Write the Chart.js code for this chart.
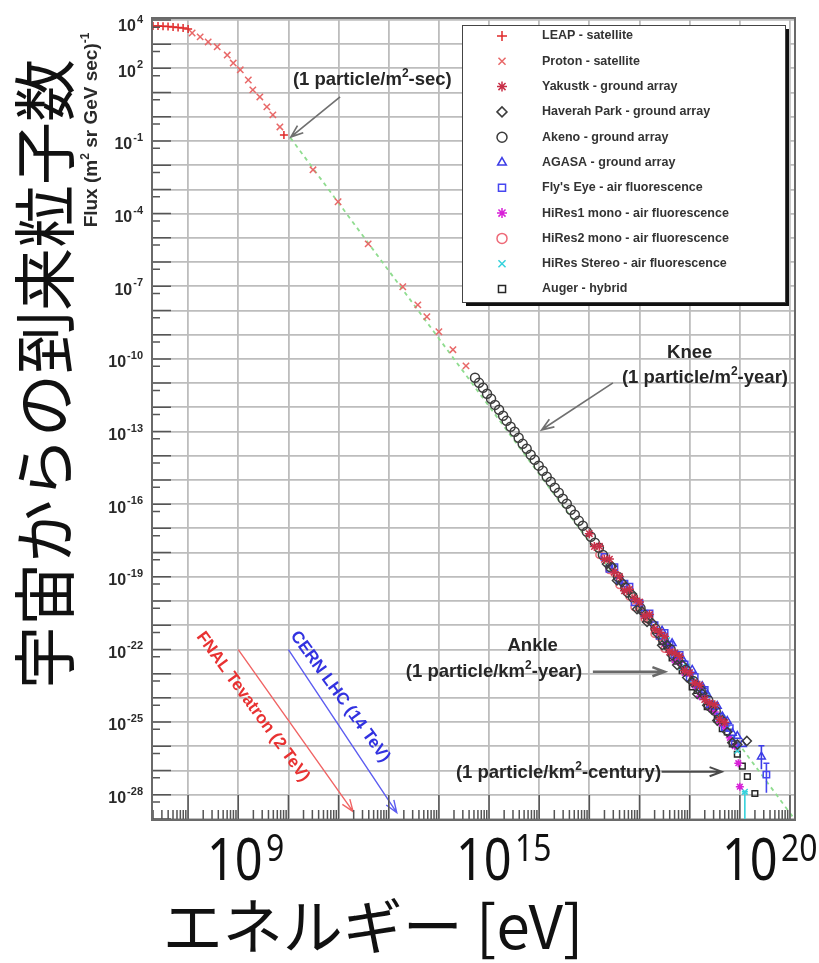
<!DOCTYPE html>
<html>
<head>
<meta charset="utf-8">
<title>Cosmic ray spectrum</title>
<script src="https://cdn.jsdelivr.net/npm/chart.js@4.4.1/dist/chart.umd.min.js"></script>
<style>
  html, body { margin: 0; padding: 0; background: #fff; }
  #wrap { position: relative; width: 819px; height: 963px; }
</style>
</head>
<body>
<div id="wrap"><canvas id="spectrum" width="819" height="963"></canvas></div>
<script>
// ==================== Data (log10 of energy in eV / flux) ====================
const leapLogE = [8.30, 8.40, 8.50, 8.60, 8.70, 8.80, 8.90, 9.00, 10.91];
const leapLogFlux = [3.75, 3.75, 3.74, 3.73, 3.71, 3.69, 3.67, 3.63, -0.75];

const protonLogE = [9.08, 9.24, 9.40, 9.58, 9.78, 9.90, 10.04, 10.20, 10.29, 10.43, 10.57, 10.69, 10.83,
  11.49, 11.99, 12.59, 13.28, 13.58, 13.76, 14.00, 14.28, 14.54];
const protonLogFlux = [3.46, 3.30, 3.09, 2.89, 2.55, 2.22, 1.94, 1.52, 1.11, 0.82, 0.41, 0.08, -0.42,
  -2.19, -3.51, -5.25, -7.02, -7.77, -8.26, -8.88, -9.62, -10.29];

const yakutskLogE = [17.0, 17.1, 17.2, 17.3, 17.4, 17.5, 17.6, 17.7, 17.8, 17.9, 18.0, 18.1, 18.2, 18.3,
  18.4, 18.5, 18.6, 18.7, 18.8, 18.9, 19.0, 19.1, 19.2, 19.3, 19.4, 19.5, 19.6, 19.7];
const yakutskLogFlux = [-17.22, -17.75, -17.74, -18.28, -18.27, -18.80, -18.99, -19.58, -19.51, -19.90, -20.04, -20.62, -20.56, -21.15,
  -21.29, -21.47, -22.11, -22.15, -22.28, -22.87, -22.96, -23.39, -23.48, -24.07, -24.21, -24.29, -24.88, -25.02];

const haverahLogE = [17.35, 17.45, 17.55, 17.65, 17.75, 17.85, 17.95, 18.05, 18.15, 18.25, 18.35, 18.45, 18.55, 18.65,
  18.75, 18.85, 18.95, 19.05, 19.15, 19.25, 19.35, 19.45, 19.55, 19.65, 19.75, 19.85, 19.95, 20.14];
const haverahLogFlux = [-18.47, -18.56, -19.15, -19.23, -19.67, -19.71, -20.34, -20.43, -20.87, -20.90, -21.34, -21.83, -21.82, -22.25,
  -22.64, -22.63, -23.16, -23.35, -23.84, -23.82, -24.31, -24.50, -24.94, -24.92, -25.41, -25.85, -25.93, -25.78];

const akenoLogE = [14.72, 14.80, 14.88, 14.96, 15.04, 15.12, 15.20, 15.28, 15.35, 15.43, 15.51, 15.59, 15.67, 15.75,
  15.83, 15.91, 15.99, 16.07, 16.15, 16.23, 16.31, 16.39, 16.47, 16.55, 16.63, 16.71, 16.79, 16.87, 16.95, 17.03,
  17.11, 17.19, 17.27, 17.42, 17.57, 17.72, 17.87, 18.02, 18.17, 18.32, 18.47, 18.62, 18.77, 18.92, 19.07, 19.22, 19.37, 19.52];
const akenoLogFlux = [-10.78, -10.99, -11.19, -11.44, -11.65, -11.90, -12.10, -12.35, -12.56, -12.80, -13.01, -13.26, -13.51, -13.71,
  -13.96, -14.17, -14.41, -14.62, -14.87, -15.07, -15.32, -15.53, -15.78, -15.98, -16.23, -16.44, -16.69, -16.89, -17.14, -17.35,
  -17.59, -17.80, -18.10, -18.60, -19.00, -19.45, -19.85, -20.30, -20.70, -21.15, -21.60, -22.00, -22.40, -22.85, -23.30, -23.70, -24.10, -24.55];

const agasaLogE = [18.45, 18.55, 18.65, 18.75, 18.85, 18.95, 19.05, 19.15, 19.25, 19.35, 19.45, 19.55, 19.65, 19.75, 19.85, 19.95, 20.05, 20.43];
const agasaLogFlux = [-21.23, -21.72, -21.75, -22.24, -22.38, -22.76, -22.85, -23.44, -23.52, -23.86, -24.30, -24.34, -24.77, -24.96, -25.45, -25.58, -25.92, -26.43];

const flysEyeLogE = [17.3, 17.4, 17.5, 17.6, 17.7, 17.8, 17.9, 18.0, 18.1, 18.2, 18.3, 18.4, 18.5, 18.6,
  18.7, 18.8, 18.9, 19.0, 19.1, 19.2, 19.3, 19.4, 19.5, 19.6, 19.7, 19.8, 19.9, 20.53];
const flysEyeLogFlux = [-18.18, -18.67, -18.60, -19.14, -19.28, -19.41, -20.05, -20.09, -20.52, -20.51, -21.00, -21.44, -21.32, -21.81,
  -22.20, -22.23, -22.62, -23.16, -23.14, -23.58, -23.67, -24.26, -24.34, -24.78, -25.22, -25.25, -25.89, -27.17];

const hires1LogE = [18.5, 18.6, 18.7, 18.8, 18.9, 19.0, 19.1, 19.2, 19.3, 19.4, 19.5, 19.6, 19.7, 19.8, 19.9, 19.97, 20.00];
const hires1LogFlux = [-21.77, -21.91, -22.45, -22.53, -22.97, -23.01, -23.49, -23.93, -23.97, -24.41, -24.59, -25.03, -25.22, -25.65, -25.99, -26.70, -27.67];

const hires2LogE = [17.2, 17.3, 17.4, 17.5, 17.6, 17.7, 17.8, 17.9, 18.0, 18.1, 18.2, 18.3, 18.4, 18.5, 18.6];
const hires2LogFlux = [-18.09, -18.18, -18.72, -18.85, -19.34, -19.38, -19.81, -20.25, -20.29, -20.72, -20.81, -21.35, -21.49, -21.97, -22.01];

const stereoLogE = [18.45, 18.55, 18.65, 18.75, 18.85, 18.95, 19.05, 19.15, 19.25, 19.35, 19.45, 19.55, 19.65, 19.75, 19.85, 19.95, 20.10];
const stereoLogFlux = [-21.53, -21.62, -22.20, -22.24, -22.73, -22.71, -23.25, -23.44, -23.97, -23.91, -24.35, -24.79, -24.82, -25.26, -25.65, -26.18, -27.88];

const augerLogE = [18.45, 18.55, 18.65, 18.75, 18.85, 18.95, 19.05, 19.15, 19.25, 19.35, 19.45, 19.55, 19.65, 19.75, 19.85, 19.95, 20.05, 20.15, 20.30];
const augerLogFlux = [-21.68, -21.87, -22.35, -22.49, -22.88, -22.96, -23.55, -23.69, -23.92, -24.36, -24.45, -24.89, -25.27, -25.41, -25.90, -26.33, -26.82, -27.25, -27.95];

// error bars on the highest-energy points: series label, energy, low, high
const errSeries = ['AGASA - ground array', "Fly's Eye - air fluorescence", 'HiRes Stereo - air fluorescence'];
const errLogE = [20.43, 20.53, 20.10];
const errLogLow = [-26.95, -27.92, -29.60];
const errLogHigh = [-25.98, -26.70, -27.88];

// green guide line
const guideLogE = [11.04, 21.10];
const guideLogFlux = [-0.87, -29.04];

// axis ranges and labelled tick exponents
const xLogRange = [8.28, 21.10];
const yLogRange = [-29.03, 4.08];
const yLabelExponents = [4, 2, -1, -4, -7, -10, -13, -16, -19, -22, -25, -28];
const xLabelExponents = ['9', '15', '20'];

// ==================== Helpers ====================
const pts = (le, lf) => le.map((e, i) => ({ x: 10 ** e, y: 10 ** lf[i] }));
const SANS = '"Liberation Sans", Arial, sans-serif';

function series(label, le, lf, style, color, fill, radius) {
  return {
    label: label,
    data: pts(le, lf),
    pointStyle: style,
    borderColor: color,
    backgroundColor: fill || 'rgba(0,0,0,0)',
    pointRadius: radius || 4,
    pointBorderWidth: 1.5,
    showLine: false,
    inLegend: true
  };
}

function arrow(ctx, x1, y1, x2, y2, color, width) {
  const a = Math.atan2(y2 - y1, x2 - x1), h = 13, s = 0.36;
  ctx.save();
  ctx.strokeStyle = color;
  ctx.lineWidth = width;
  ctx.beginPath();
  ctx.moveTo(x1, y1);
  ctx.lineTo(x2, y2);
  ctx.moveTo(x2 - h * Math.cos(a - s), y2 - h * Math.sin(a - s));
  ctx.lineTo(x2, y2);
  ctx.lineTo(x2 - h * Math.cos(a + s), y2 - h * Math.sin(a + s));
  ctx.stroke();
  ctx.restore();
}

// parts: [text, isSuperscript]
function rich(ctx, parts, x, y, align, base, sup, rise) {
  let w = 0;
  parts.forEach(p => { ctx.font = p[1] ? sup : base; w += ctx.measureText(p[0]).width; });
  let cx = align === 'center' ? x - w / 2 : align === 'right' ? x - w : x;
  ctx.textAlign = 'left';
  ctx.textBaseline = 'alphabetic';
  parts.forEach(p => {
    ctx.font = p[1] ? sup : base;
    ctx.fillText(p[0], cx, p[1] ? y - rise : y);
    cx += ctx.measureText(p[0]).width;
  });
}

// ==================== Overlay plugin ====================
const overlay = {
  id: 'overlay',
  afterDatasetsDraw(chart) {
    const ctx = chart.ctx, a = chart.chartArea;
    const X = e => chart.scales.x.getPixelForValue(10 ** e);
    const Y = f => chart.scales.y.getPixelForValue(10 ** f);

    // error bars
    ctx.save();
    ctx.beginPath();
    ctx.rect(a.left, a.top, a.right - a.left, a.bottom - a.top);
    ctx.clip();
    errLogE.forEach((e, i) => {
      const ds = chart.data.datasets.find(d => d.label === errSeries[i]);
      ctx.strokeStyle = ds.borderColor;
      ctx.lineWidth = 1.6;
      const x = X(e);
      ctx.beginPath();
      ctx.moveTo(x, Y(errLogLow[i]));
      ctx.lineTo(x, Y(errLogHigh[i]));
      ctx.moveTo(x - 3, Y(errLogHigh[i]));
      ctx.lineTo(x + 3, Y(errLogHigh[i]));
      ctx.stroke();
    });
    ctx.restore();

    // annotation arrows
    arrow(ctx, X(12.03), Y(0.82), X(11.05), Y(-0.83), '#707070', 1.7);
    arrow(ctx, X(17.47), Y(-10.99), X(16.05), Y(-12.93), '#707070', 1.7);
    arrow(ctx, X(17.07), Y(-22.92), X(18.50), Y(-22.92), '#6a6a6a', 2.6);
    arrow(ctx, X(18.44), Y(-27.05), X(19.64), Y(-27.05), '#4a4a4a', 2);
    arrow(ctx, X(10.00), Y(-22.01), X(12.29), Y(-28.70), '#f06464', 1.4);
    arrow(ctx, X(11.00), Y(-22.01), X(13.16), Y(-28.74), '#5c5cf0', 1.4);

    // annotation texts
    const base = 'bold 18.5px ' + SANS, sup = 'bold 12px ' + SANS;
    ctx.fillStyle = '#262626';
    rich(ctx, [['(1 particle/m', 0], ['2', 1], ['-sec)', 0]], X(11.09), Y(1.33), 'left', base, sup, 8);
    rich(ctx, [['Knee', 0]], X(19.0), Y(-9.98), 'center', base, sup, 8);
    rich(ctx, [['(1 particle/m', 0], ['2', 1], ['-year)', 0]], X(17.65), Y(-11.01), 'left', base, sup, 8);
    rich(ctx, [['Ankle', 0]], X(15.87), Y(-22.07), 'center', base, sup, 8);
    rich(ctx, [['(1 particle/km', 0], ['2', 1], ['-year)', 0]], X(13.34), Y(-23.15), 'left', base, sup, 8);
    rich(ctx, [['(1 particle/km', 0], ['2', 1], ['-century)', 0]], X(14.34), Y(-27.32), 'left', base, sup, 8);

    // rotated collider labels
    [['FNAL Tevatron (2 TeV)', '#e83232', 10.29, -24.37], ['CERN LHC (14 TeV)', '#3232e0', 12.03, -23.95]].forEach(t => {
      ctx.save();
      ctx.translate(X(t[2]), Y(t[3]));
      ctx.rotate(54 * Math.PI / 180);
      ctx.font = 'bold 17px ' + SANS;
      ctx.fillStyle = t[1];
      ctx.textAlign = 'center';
      ctx.textBaseline = 'middle';
      ctx.fillText(t[0], 0, 0);
      ctx.restore();
    });
  },

  afterDraw(chart) {
    const ctx = chart.ctx, a = chart.chartArea;
    const xs = chart.scales.x, ys = chart.scales.y;

    // inner tick marks
    ctx.save();
    ctx.strokeStyle = '#555';
    ctx.lineWidth = 1.5;
    ctx.beginPath();
    for (let n = 8; n <= 21; n++) {
      for (let m = 1; m <= 9; m++) {
        const v = m * 10 ** n;
        if (v < xs.min || v > xs.max) continue;
        const x = xs.getPixelForValue(v);
        ctx.moveTo(x, a.bottom);
        ctx.lineTo(x, a.bottom - (m === 1 ? 25 : 10));
      }
    }
    for (let n = -29; n <= 4; n++) {
      [[10 ** n, 19], [5 * 10 ** (n - 1), 8]].forEach(t => {
        if (t[0] < ys.min || t[0] > ys.max) return;
        const y = ys.getPixelForValue(t[0]);
        ctx.moveTo(a.left, y);
        ctx.lineTo(a.left + t[1], y);
      });
    }
    ctx.stroke();

    // frame
    ctx.strokeStyle = '#6a6a6a';
    ctx.lineWidth = 2;
    ctx.strokeRect(a.left, a.top, a.right - a.left, a.bottom - a.top);
    ctx.restore();

    // y tick labels
    ctx.save();
    ctx.fillStyle = '#2a2a2a';
    yLabelExponents.forEach(n => {
      let y = ys.getPixelForValue(10 ** n);
      if (y < a.top + 5) y = a.top + 5;
      ctx.textAlign = 'right';
      ctx.textBaseline = 'middle';
      ctx.font = 'bold 11px ' + SANS;
      const ew = ctx.measureText(String(n)).width;
      ctx.fillText(String(n), a.left - 9, y - 3);
      ctx.font = 'bold 16px ' + SANS;
      ctx.fillText('10', a.left - 10 - ew, y + 4);
    });
    ctx.restore();

    // small Flux title
    ctx.save();
    ctx.translate(90, 130);
    ctx.rotate(-Math.PI / 2);
    ctx.fillStyle = '#2a2a2a';
    rich(ctx, [['Flux (m', 0], ['2', 1], [' sr GeV sec)', 0], ['-1', 1]], 0, 7, 'center',
      'bold 19px ' + SANS, 'bold 12px ' + SANS, 8);
    ctx.restore();

    // legend box
    const lx = 462, ly = 25, lw = 323, lh = 277;
    ctx.save();
    ctx.fillStyle = '#111';
    ctx.fillRect(lx + 4, ly + 4, lw, lh);
    ctx.fillStyle = '#fff';
    ctx.fillRect(lx, ly, lw, lh);
    ctx.strokeStyle = '#444';
    ctx.lineWidth = 1;
    ctx.strokeRect(lx + 0.5, ly + 0.5, lw, lh);
    const items = chart.data.datasets.filter(d => d.inLegend);
    items.forEach((d, i) => {
      const y = ly + 11 + i * 25.3;
      ctx.strokeStyle = d.borderColor;
      ctx.fillStyle = d.backgroundColor;
      ctx.lineWidth = 1.5;
      Chart.helpers.drawPoint(ctx, { pointStyle: d.pointStyle, radius: 5, borderWidth: 1.5, rotation: 0 }, lx + 40, y);
      ctx.fillStyle = '#333';
      ctx.font = 'bold 12.5px ' + SANS;
      ctx.textAlign = 'left';
      ctx.textBaseline = 'middle';
      ctx.fillText(d.label, lx + 80, y);
    });
    ctx.restore();

    // slide overlay: big axis labels
    ctx.save();
    ctx.fillStyle = '#111';
    const bigX = [207, 456, 722];
    xLabelExponents.forEach((s, i) => {
      ctx.save();
      ctx.translate(bigX[i], 880);
      ctx.scale(0.84, 1);
      ctx.font = '58px "Noto Sans", ' + SANS;
      ctx.textAlign = 'left';
      ctx.textBaseline = 'alphabetic';
      ctx.fillText('10', 0, 0);
      const w = ctx.measureText('10').width;
      ctx.font = '38px "Noto Sans", ' + SANS;
      ctx.fillText(s, w + 4, -19);
      ctx.restore();
    });

    ctx.font = '60px "Noto Sans CJK JP", "Noto Sans", sans-serif';
    ctx.textAlign = 'center';
    ctx.textBaseline = 'middle';
    ctx.fillText('エネルギー [eV]', 373, 926);

    ctx.translate(44, 374);
    ctx.rotate(-Math.PI / 2);
    ctx.font = '63px "Noto Sans CJK JP", sans-serif';
    ctx.fillText('宇宙からの到来粒子数', 0, 0);
    ctx.restore();
  }
};

// ==================== Chart ====================
const gridStyle = { color: '#bdbdbd', lineWidth: 1.8, drawTicks: false };

const spectrumChart = new Chart(document.getElementById('spectrum').getContext('2d'), {
  type: 'scatter',
  data: {
    datasets: [
      series('LEAP - satellite', leapLogE, leapLogFlux, 'cross', '#e02a2a', null, 4),
      series('Proton - satellite', protonLogE, protonLogFlux, 'crossRot', '#e86868', null, 4.5),
      series('Yakustk - ground array', yakutskLogE, yakutskLogFlux, 'star', '#c83048', null, 4.5),
      series('Haverah Park - ground array', haverahLogE, haverahLogFlux, 'rectRot', '#3c3c3c', null, 4.5),
      series('Akeno - ground array', akenoLogE, akenoLogFlux, 'circle', '#3c3c3c', null, 4.5),
      series('AGASA - ground array', agasaLogE, agasaLogFlux, 'triangle', '#3c3ce6', null, 4.5),
      series("Fly's Eye - air fluorescence", flysEyeLogE, flysEyeLogFlux, 'rect', '#4646f0', null, 4.5),
      series('HiRes1 mono - air fluorescence', hires1LogE, hires1LogFlux, 'star', '#d820d8', '#d820d8', 4),
      series('HiRes2 mono - air fluorescence', hires2LogE, hires2LogFlux, 'circle', '#ee6a78', null, 3.5),
      series('HiRes Stereo - air fluorescence', stereoLogE, stereoLogFlux, 'crossRot', '#36d2dc', null, 4),
      series('Auger - hybrid', augerLogE, augerLogFlux, 'rect', '#262626', null, 4),
      {
        type: 'line',
        label: 'guide',
        data: pts(guideLogE, guideLogFlux),
        borderColor: '#8fdc8f',
        borderWidth: 1.8,
        borderDash: [4, 4],
        pointRadius: 0,
        showLine: true,
        order: 20
      }
    ]
  },
  options: {
    responsive: false,
    animation: false,
    devicePixelRatio: 1,
    layout: { padding: { left: 152, right: 24, top: 18, bottom: 143 } },
    plugins: { legend: { display: false }, tooltip: { enabled: false } },
    scales: {
      x: {
        type: 'logarithmic',
        min: 10 ** xLogRange[0],
        max: 10 ** xLogRange[1],
        grid: gridStyle,
        border: { display: false },
        ticks: { display: false },
        afterBuildTicks: s => {
          const t = [];
          for (let n = 9; n <= 21; n++) t.push({ value: 10 ** n });
          s.ticks = t;
        },
        afterFit: s => { s.height = 0; }
      },
      y: {
        type: 'logarithmic',
        min: 10 ** yLogRange[0],
        max: 10 ** yLogRange[1],
        grid: gridStyle,
        border: { display: false },
        ticks: { display: false },
        afterBuildTicks: s => {
          const t = [];
          for (let n = -29; n <= 4; n++) t.push({ value: 10 ** n });
          s.ticks = t;
        },
        afterFit: s => { s.width = 0; }
      }
    }
  },
  plugins: [overlay]
});
</script>
</body>
</html>
